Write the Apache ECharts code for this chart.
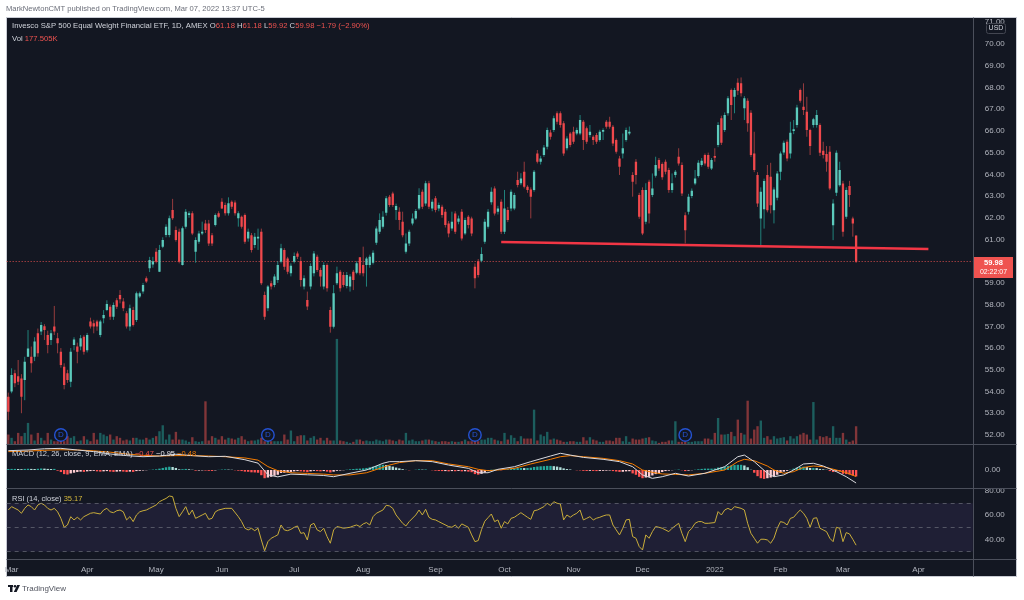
<!DOCTYPE html>
<html><head><meta charset="utf-8">
<script src="https://cdn.jsdelivr.net/npm/echarts@6/dist/echarts.min.js"></script>
<style>html,body{margin:0;padding:0;background:#fff}#c{width:1024px;height:600px}</style>
</head><body><div id="c"></div><script>
const FONT = '"Liberation Sans", Arial, sans-serif';
const START = '2021-02-26';
const HOLIDAYS = ['2021-04-02','2021-05-31','2021-07-05','2021-09-06','2021-11-25','2021-12-24','2022-01-17','2022-02-21','2022-04-15'];
const N_CAT = 294;
const MONTHS = ['Jan','Feb','Mar','Apr','May','Jun','Jul','Aug','Sep','Oct','Nov','Dec'];

const open = [
53.76,54.00,54.84,54.70,54.60,54.53,55.60,55.60,55.60,56.68,
56.76,57.00,56.60,56.37,56.99,56.45,55.83,55.14,54.84,54.45,
56.14,56.07,56.07,56.52,55.90,57.22,57.14,57.22,56.60,57.37,
57.75,57.90,57.44,58.20,58.44,58.14,57.60,56.99,57.75,57.29,
58.37,58.60,59.21,59.67,59.85,60.44,59.52,60.67,61.21,61.21,
62.36,61.44,61.36,59.83,61.59,62.13,62.21,60.44,60.90,61.28,
61.74,61.74,61.20,61.67,62.21,62.74,62.59,62.21,62.74,62.70,
61.98,62.05,62.13,61.05,61.20,60.75,61.05,61.36,58.44,57.83,
58.98,58.90,59.14,59.98,60.52,60.13,59.44,59.98,60.36,
60.01,58.83,58.21,58.83,59.44,60.21,59.60,58.83,59.82,57.75,56.98,
58.98,59.52,59.36,58.86,58.83,59.52,59.47,60.18,59.82,59.82,
59.82,59.93,60.85,61.36,61.59,62.23,62.97,63.12,62.36,62.28,
61.82,60.44,60.82,61.74,61.97,62.43,63.20,62.66,63.59,62.43,
62.90,62.43,62.51,62.28,61.74,61.51,62.20,61.82,62.28,61.28,
62.05,61.97,59.75,60.00,60.02,60.90,61.59,62.71,63.35,62.28,
62.74,61.36,62.36,62.43,62.43,63.74,63.59,64.12,63.43,63.30,
63.28,64.96,64.58,64.89,65.27,65.92,66.04,66.81,66.81,66.35,
65.20,65.88,65.96,65.88,65.88,66.42,66.12,65.81,65.73,65.81,
65.58,65.96,66.42,66.42,66.19,65.58,64.73,64.96,65.58,65.88,
63.97,64.58,63.05,63.28,61.82,63.66,63.05,63.93,64.66,64.47,
64.58,64.20,63.28,63.97,64.81,64.43,62.12,62.28,63.00,63.58,
63.92,64.43,64.89,64.89,64.27,64.84,65.35,66.58,66.04,66.81,
67.88,67.57,68.22,68.19,67.04,67.39,66.84,64.96,63.97,61.97,
62.39,63.97,63.89,62.35,62.92,64.12,65.00,65.50,64.96,66.00,
66.27,67.88,67.11,66.88,66.04,66.27,66.27,66.27,65.08,64.93,
65.04,61.66,63.15,63.50,63.58,62.05,63.46,61.97,61.18];
const high = [
53.95,55.07,55.00,55.45,54.80,55.60,56.83,56.07,56.50,56.90,
57.20,57.10,56.80,56.83,57.94,56.70,56.00,55.30,55.00,56.00,
56.50,56.25,56.60,56.60,56.70,57.40,57.30,57.30,57.30,57.75,
58.20,58.00,58.10,58.30,58.67,58.30,57.70,58.00,57.90,58.60,
58.60,59.00,59.30,60.20,60.20,60.60,60.75,61.10,61.70,62.10,
62.87,61.60,61.50,61.60,62.40,62.30,62.30,61.10,61.40,61.82,
61.90,61.90,61.30,62.20,62.30,62.90,62.70,62.94,62.80,62.80,
62.30,62.10,62.20,61.50,61.30,61.30,61.50,61.50,58.60,58.90,
59.10,59.40,60.00,60.80,60.60,60.20,59.90,60.40,60.45,
60.20,59.35,58.60,59.90,60.47,60.30,59.70,59.95,59.90,57.90,58.90,
59.75,59.60,59.50,59.50,59.40,59.60,60.00,60.18,60.67,60.20,
60.30,60.50,61.60,62.20,62.30,63.00,63.05,63.20,62.65,62.48,
62.28,61.28,61.45,62.20,62.40,63.36,63.30,63.70,63.70,62.85,
63.00,62.70,62.60,62.40,61.85,62.28,62.30,62.10,62.40,62.00,
62.12,62.05,59.90,60.10,60.64,61.95,62.40,63.40,63.45,62.55,
62.85,63.28,62.50,63.30,63.15,64.12,64.05,64.58,63.50,63.40,
64.20,65.12,64.85,65.35,66.15,66.05,66.70,66.90,66.90,66.45,
65.75,65.95,66.19,66.15,66.73,66.50,66.20,66.27,65.80,65.90,
66.05,66.12,66.50,66.65,66.27,65.65,64.85,65.88,66.15,66.20,
64.10,64.70,63.15,63.40,63.59,63.75,64.04,64.81,64.75,64.55,
64.68,64.30,64.04,64.20,65.20,64.55,62.25,63.10,63.35,64.20,
64.65,64.75,64.96,65.00,64.75,65.20,66.40,66.70,66.85,67.60,
67.95,67.98,68.42,68.46,67.60,67.50,66.95,65.96,64.10,63.40,
63.80,64.43,64.53,63.40,64.15,65.05,65.55,65.60,66.42,66.50,
67.20,67.95,68.19,67.57,66.10,66.60,66.96,66.35,65.50,65.30,
65.30,62.85,65.10,64.58,63.70,63.40,63.70,62.05,61.18];
const low = [
52.69,53.92,54.20,54.30,53.00,53.60,55.60,54.87,55.40,55.60,
56.60,56.37,55.76,56.14,56.60,55.76,55.10,54.10,54.40,54.20,
55.90,55.30,55.90,55.70,55.80,56.90,56.68,56.80,56.50,57.14,
57.70,57.30,57.30,57.80,58.06,57.70,56.90,56.80,56.99,57.20,
58.30,58.50,59.00,59.50,59.70,59.90,59.50,60.60,61.10,61.10,
61.90,60.90,59.90,59.80,61.50,62.00,61.20,59.93,60.80,61.20,
61.30,60.70,60.70,61.60,62.00,62.40,62.10,62.10,62.40,62.10,
61.59,61.50,60.80,60.90,60.40,60.60,60.52,58.90,57.30,57.70,
58.70,58.80,59.00,59.90,59.60,59.40,59.30,59.90,60.10,
58.83,58.70,57.75,58.70,59.30,59.50,58.83,58.70,58.60,56.71,56.90,
58.90,58.60,58.80,58.75,58.60,58.67,59.40,59.35,59.30,58.83,
59.70,59.85,60.75,61.25,61.50,62.10,62.50,62.50,61.90,61.44,
61.10,60.35,60.70,61.65,61.90,62.35,62.40,62.55,62.40,62.30,
62.25,62.30,62.00,61.55,61.10,61.40,61.25,61.70,60.95,61.20,
61.51,61.15,58.75,59.25,59.95,60.80,61.50,62.60,62.10,62.15,
61.25,61.25,61.80,62.30,62.35,63.40,63.50,63.35,63.15,61.97,
63.20,64.50,64.45,64.80,65.15,65.60,65.95,66.30,66.15,64.85,
65.10,65.25,65.40,65.80,65.80,65.12,65.40,65.70,65.35,65.40,
65.50,65.58,66.10,66.10,65.30,64.95,63.97,64.73,65.50,65.80,
62.97,63.54,61.95,61.20,61.70,61.74,62.95,63.85,64.15,63.75,
64.00,63.15,63.15,63.85,64.40,63.00,60.82,62.15,62.90,63.50,
63.85,64.35,64.40,64.25,64.20,64.58,65.25,65.35,65.95,66.70,
66.50,66.81,67.65,67.58,66.50,65.96,64.80,64.10,62.50,60.66,
61.50,62.25,62.20,61.74,62.80,63.73,64.90,64.60,64.73,65.85,
66.15,67.30,66.73,65.73,64.89,66.15,66.15,64.84,64.73,64.12,
63.27,60.97,63.00,63.43,61.13,61.95,62.50,61.13,59.92];
const close = [
53.07,54.76,54.38,54.45,53.76,55.37,55.98,55.30,56.30,55.76,
57.06,56.83,56.14,56.68,56.76,56.22,55.22,54.30,54.53,55.83,
56.40,55.83,56.45,55.83,56.60,56.99,56.99,56.99,57.22,57.52,
58.03,57.44,57.98,57.90,58.25,57.83,56.99,57.83,57.06,58.52,
58.52,58.90,59.06,60.06,60.00,59.98,60.52,60.98,61.59,61.98,
61.98,60.98,59.98,61.52,62.28,62.21,61.28,60.98,61.28,61.36,
61.44,60.82,60.82,62.13,62.05,62.43,62.21,62.67,62.51,62.21,
62.21,61.59,60.90,61.36,60.52,61.13,61.13,58.98,57.44,58.83,
58.83,59.29,59.83,60.60,59.75,59.52,59.79,60.24,60.20,
59.13,59.21,57.91,59.78,60.36,59.60,59.29,59.82,58.75,56.98,58.52,
59.44,58.75,58.90,59.36,59.29,59.13,59.90,59.44,59.44,60.13,
60.21,60.39,61.51,61.90,62.05,62.90,62.59,62.59,62.54,61.90,
61.20,60.82,61.36,61.97,62.31,63.05,62.51,63.59,62.51,62.74,
62.36,62.59,62.13,61.67,61.28,61.82,61.36,61.97,61.05,61.90,
61.67,61.28,59.21,59.36,60.33,61.82,62.28,63.20,62.20,62.43,
61.36,62.43,61.90,63.20,63.05,63.51,63.81,63.43,63.28,62.97,
64.12,64.58,64.73,65.24,66.04,65.73,66.58,66.42,66.27,64.96,
65.65,65.35,65.50,66.04,66.50,65.58,65.50,65.96,65.58,65.50,
65.96,66.04,66.19,66.19,65.42,65.04,64.35,65.20,66.04,65.96,
63.66,63.97,62.05,61.28,63.28,62.20,63.35,64.43,64.27,63.86,
64.12,63.28,63.59,64.12,64.50,63.12,61.43,62.97,63.24,63.81,
64.53,64.63,64.50,64.35,64.66,64.76,66.27,65.45,66.73,67.50,
67.19,67.88,67.85,67.73,67.50,66.35,64.89,64.20,62.66,63.20,
63.69,62.35,62.58,63.30,64.04,64.96,65.45,64.73,65.91,66.08,
67.08,67.39,66.96,66.04,65.30,66.53,66.73,64.99,64.89,64.58,
63.35,62.66,64.99,64.20,61.36,63.28,63.05,61.74,59.98];
const volumeK = [
97,65,32,113,81,113,210,97,39,113,65,39,113,48,32,32,32,32,81,65,
81,32,39,81,48,32,113,48,113,97,81,97,48,81,65,39,48,39,65,65,
48,48,65,48,65,81,129,187,48,97,48,123,48,48,39,26,71,32,26,32,
420,39,81,65,48,81,48,65,58,48,65,81,48,32,39,39,48,65,32,32,
32,32,32,32,97,48,136,32,81,90,90,39,65,81,48,65,39,65,39,39,
1027,39,32,26,16,26,48,48,32,39,32,32,48,39,32,48,48,39,32,48,
39,113,39,48,32,32,39,48,48,39,32,26,32,32,26,32,26,26,32,48,
32,32,32,32,48,48,65,65,48,39,32,113,48,90,65,32,81,58,58,58,
339,39,97,81,123,48,58,48,39,26,26,32,32,26,26,71,39,71,48,39,
26,26,39,39,32,65,65,32,81,26,58,48,48,58,65,71,39,32,16,26,
26,39,39,226,26,26,26,26,26,32,32,32,58,58,48,113,258,97,97,103,
123,81,242,113,97,426,58,145,178,233,65,81,48,81,58,65,71,39,81,58,
81,97,113,97,48,413,48,81,71,81,65,178,65,65,113,48,26,39,177.5];
const macdHist = [
0.07,0.08,0.08,0.07,0.06,0.08,0.09,0.08,0.07,0.09,0.11,0.1,0.08,0.07,0.08,
-0.05,-0.15,-0.3,-0.33,-0.25,-0.2,-0.15,
-0.12,-0.14,-0.1,-0.08,-0.06,-0.1,-0.12,-0.1,-0.08,-0.12,-0.14,-0.12,-0.1,-0.12,-0.15,
-0.12,-0.14,-0.08,-0.06,-0.04,-0.02,0.01,0.03,0.05,
0.1,0.15,0.2,0.24,0.22,0.15,
0.05,0.06,0.08,0.05,0.02,-0.05,-0.04,-0.03,-0.04,-0.06,-0.07,-0.03,0.01,0.03,0.04,0.03,0.02,-0.02,
-0.05,-0.08,-0.12,-0.13,-0.17,-0.18,-0.2,
-0.38,-0.6,-0.55,-0.5,-0.42,-0.35,
-0.22,-0.2,-0.17,-0.14,-0.1,-0.08,-0.1,-0.12,-0.16,-0.1,-0.06,-0.08,-0.1,-0.08,-0.12,-0.18,-0.12,
-0.06,-0.04,-0.02,0.02,0.05,0.07,0.09,0.1,0.12,0.15,
0.2,0.25,0.3,0.35,0.38,0.36,0.3,0.25,0.18,0.12,0.06,
0.01,-0.02,0.0,0.02,0.05,0.03,0.04,0.0,-0.02,-0.05,-0.07,-0.08,-0.08,-0.1,-0.08,-0.09,-0.07,-0.1,-0.09,
-0.12,-0.16,-0.3,-0.34,-0.28,-0.18,-0.08,
0.02,0.03,0.01,-0.02,0.03,0.05,0.1,0.12,0.14,0.15,0.14,0.15,0.17,0.22,0.25,0.27,0.28,0.3,0.3,0.28,0.25,0.2,0.12,0.07,0.04,
0.0,-0.02,-0.03,-0.06,-0.07,-0.06,-0.07,-0.08,-0.07,-0.06,-0.05,-0.04,-0.08,-0.11,-0.14,-0.13,-0.1,-0.09,
-0.25,-0.35,-0.5,-0.6,-0.55,-0.5,-0.4,-0.3,-0.22,-0.15,
-0.08,-0.05,-0.02,0.01,0.03,-0.02,-0.08,-0.05,-0.02,0.02,0.05,0.08,0.1,0.1,0.1,0.11,
0.18,0.2,0.25,0.3,0.33,0.36,0.38,0.38,0.33,0.2,0.02,
-0.2,-0.45,-0.6,-0.65,-0.6,-0.55,-0.45,-0.35,-0.22,-0.12,
-0.06,0.02,0.1,0.18,0.22,0.24,0.22,0.15,0.15,0.14,0.08,0.05,0.02,
-0.08,-0.15,-0.1,-0.12,-0.28,-0.3,-0.33,-0.4,-0.47];
const macdPts = [[0,1.41],[6,1.46],[11,1.55],[16,1.58],[21,1.46],[26,1.34],[31,1.17],[36,1.05],[41,0.97],[46,1.02],[51,1.15],[56,1.05],[61,0.97],[66,1.0],[72,0.75],[76,0.5],[79,-0.35],[82,-0.5],[86,-0.3],[91,-0.35],[96,-0.4],[99,-0.49],[104,-0.24],[109,0.0],[114,0.49],[116,0.61],[119,0.61],[124,0.68],[129,0.61],[134,0.36],[140,0.12],[143,-0.2],[146,-0.2],[149,0.05],[154,0.24],[159,0.61],[165,1.02],[168,1.22],[171,1.09],[175,0.92],[181,0.78],[186,0.61],[190,0.24],[193,-0.36],[196,-0.61],[199,-0.49],[203,-0.24],[207,-0.44],[212,-0.24],[218,0.24],[222,0.97],[224,1.09],[227,0.61],[231,-0.24],[233,-0.49],[236,-0.36],[239,0],[242,0.44],[245,0.49],[248,0.29],[252,-0.12],[255,-0.49],[258,-0.95]];
const signalPts = [[0,1.34],[6,1.38],[11,1.44],[16,1.48],[21,1.46],[26,1.40],[31,1.30],[36,1.17],[41,1.07],[46,1.02],[51,1.05],[56,1.05],[61,1.02],[66,0.97],[72,0.88],[76,0.72],[79,0.25],[82,-0.05],[86,-0.2],[91,-0.25],[96,-0.3],[99,-0.36],[104,-0.36],[109,-0.2],[114,0.19],[116,0.36],[119,0.54],[124,0.68],[129,0.68],[134,0.44],[140,0.24],[143,0.05],[146,-0.05],[149,0.0],[154,0.12],[159,0.44],[165,0.78],[168,0.97],[171,1.05],[175,0.97],[181,0.85],[186,0.68],[190,0.44],[193,0.0],[196,-0.17],[199,-0.29],[203,-0.32],[207,-0.36],[212,-0.24],[218,0.0],[222,0.61],[224,0.78],[227,0.68],[231,0.29],[233,0.0],[236,-0.24],[239,-0.12],[242,0.19],[245,0.29],[248,0.24],[252,0.0],[255,-0.19],[258,-0.48]];
const rsiPts = [[0,64.3],[1,67.1],[2,65.7],[3,64.3],[4,61.6],[5,65.7],[6,68.5],[7,67.1],[8,64.3],[9,68.5],[10,69.9],[11,68.5],[12,65.7],[13,64.3],[14,65.7],[15,62.8],[16,57.4],[17,50],[18,51.9],[19,58.8],[20,56.1],[21,58.3],[22,56.1],[23,58.8],[25,61.6],[26,62.1],[28,61.0],[29,64.3],[30,65.7],[31,62.8],[32,62.1],[33,63.7],[34,64.3],[35,62.8],[36,56.1],[37,58.8],[38,54.7],[39,60.2],[40,62.8],[41,63.7],[42,64.3],[43,65.7],[44,67.1],[45,68.5],[46,71.2],[47,72.6],[48,73.9],[49,75.9],[50,75.4],[51,65.7],[52,58.8],[53,62.8],[54,67.1],[55,60.2],[56,64.3],[57,57.4],[58,58.8],[59,60.2],[60,61.6],[61,56.6],[62,57.4],[63,62.8],[64,64.3],[66,65.7],[68,65.7],[70,58.8],[71,54.7],[72,49.2],[73,47.8],[74,49.2],[75,47.2],[76,49.2],[77,39.5],[78,30.5],[79,38.1],[80,40.9],[81,42.3],[82,43.7],[83,51.9],[84,47.8],[85,47.2],[86,48.3],[87,50],[88,51.1],[89,45],[90,45.5],[91,39.5],[92,51.9],[93,53.3],[94,47.8],[95,46.4],[96,49.2],[97,42.3],[98,36.8],[99,47.8],[100,50.6],[101,50],[102,49.2],[104,50],[105,51.1],[106,51.9],[107,50.6],[108,52.8],[109,53.9],[110,51.9],[111,58.8],[112,61.6],[114,64.3],[115,68.2],[116,67.7],[117,65.7],[118,60.2],[120,53.3],[121,51.1],[122,54.7],[124,60.2],[125,64.3],[126,60.2],[127,64.9],[128,58.3],[129,56.6],[130,56.1],[131,54.7],[132,53.3],[134,50.6],[135,50],[136,51.9],[137,49.2],[138,52.8],[140,50],[141,43.7],[142,38.1],[143,39],[144,48],[145,55],[146,58],[147,61],[148,54.7],[149,56.1],[150,49.2],[151,54.7],[152,52.8],[153,57.4],[154,58.3],[155,60.2],[156,62.1],[157,60.2],[158,58.3],[159,56.6],[160,63.7],[161,64.3],[163,67.1],[164,69.9],[165,68.0],[166,71.2],[167,69.9],[168,69.3],[169,56.1],[170,60.2],[171,58.3],[172,60.2],[173,61.6],[174,64.3],[175,56.1],[176,57.4],[177,58.8],[178,56.1],[179,57.5],[180,58.3],[181,59.4],[182,60.2],[183,60.2],[184,51.9],[185,47.8],[186,43.7],[187,49.2],[188,56.1],[189,56.6],[190,42.3],[191,40.9],[192,34.0],[193,31.2],[194,43.7],[195,40.9],[196,46.4],[197,50.6],[198,50.0],[199,49.2],[201,46.4],[202,49.2],[204,53.3],[205,45.0],[206,38.1],[207,46.4],[208,49.2],[209,53.3],[210,54.7],[211,54.7],[212,53.3],[213,53.3],[215,53.9],[216,63.0],[217,60.2],[218,64.3],[219,65.7],[220,64.3],[221,67.1],[223,65.7],[224,64.3],[225,53.3],[226,45.0],[227,40.9],[228,36.8],[229,40.1],[230,40.1],[231,39.5],[232,36.8],[233,41],[234,49.2],[235,54.7],[236,54],[237,51.9],[238,57.4],[239,58.3],[240,61.6],[241,64.3],[242,61.6],[243,57.4],[244,50.0],[245,57.4],[246,57.9],[247,49.2],[248,47.8],[249,46.4],[250,40.9],[251,38.1],[252,50.0],[253,49.2],[254,38.1],[255,45.6],[256,44.5],[257,40],[258,35.17]];
const dividendIdx = [16,79,142,206];
const trendLine = [[150,60.88],[280,60.56]];
const lastPrice = 59.98;

function buildDates(){
  const out=[]; let t=Date.parse(START+'T00:00:00Z');
  while(out.length<N_CAT){
    const d=new Date(t), dow=d.getUTCDay(), s=d.toISOString().slice(0,10);
    if(dow!==0&&dow!==6&&HOLIDAYS.indexOf(s)<0) out.push(s);
    t+=86400000;
  }
  return out;
}
const dates = buildDates();
const monthStart = dates.map((s,i)=> i>0 && s.slice(5,7)!==dates[i-1].slice(5,7));
const monthLabel = s => { const m=+s.slice(5,7); return m===1 ? s.slice(0,4) : MONTHS[m-1]; };

const UP='#5ccabc', DN='#f0484c', UPW='rgba(38,166,154,0.75)', DNW='rgba(239,83,80,0.6)';
const GL=6.66, GW=966.1;
const AX = {type:'category', data:dates, boundaryGap:true, axisLine:{show:false}, axisTick:{show:false}, axisLabel:{show:false}, splitLine:{show:false}};
const lblStyle = {color:'#b2b5be', fontSize:8, fontFamily:FONT, margin:12, align:'left'};
const F = '7.5px '+FONT;
const F1 = '7.7px '+FONT;

const candleData = open.map((o,i)=>[i,o,high[i],low[i],close[i]]);
const histData = macdHist.map((v,i)=>{
  const p = i>0 ? macdHist[i-1] : v;
  const col = v>=0 ? (v>=p?'#26a69a':'#b2dfdb') : (v<p?'#ff5252':'#ffcdd2');
  return {value:v, itemStyle:{color:col}};
});
const volData = volumeK.map((v,i)=>({value:v, itemStyle:{color: close[i]>=open[i]?'rgba(38,166,154,0.5)':'rgba(239,83,80,0.5)'}}));

const chart = echarts.init(document.getElementById('c'), null, {renderer:'canvas'});
chart.setOption({
  animation:false,
  backgroundColor:'#ffffff',
  grid:[
    {left:GL, width:GW, top:0.56, height:456.12},
    {left:GL, width:GW, top:17, height:427.5},
    {left:GL, width:GW, top:442.6, height:54.8},
    {left:GL, width:GW, top:479, height:84.5}
  ],
  xAxis:[
    Object.assign({gridIndex:0}, AX),
    Object.assign({gridIndex:1}, AX),
    Object.assign({gridIndex:2}, AX),
    Object.assign({}, AX, {gridIndex:3, axisLabel:{show:true, interval:(i)=>monthStart[i], formatter:(v)=>monthLabel(v), color:'#b2b5be', fontSize:8, fontFamily:FONT, margin:2.5}})
  ],
  yAxis:[
    {gridIndex:0, type:'value', position:'right', min:51, max:72, interval:1, splitLine:{show:false}, axisLine:{show:false}, axisTick:{show:false},
      axisLabel:Object.assign({}, lblStyle, {formatter:v=> (v<=51||v>=72)?'':v.toFixed(2)})},
    {gridIndex:1, type:'value', min:0, max:4158, show:false},
    {gridIndex:2, type:'value', position:'right', min:-2, max:2, interval:1, splitLine:{show:false}, axisLine:{show:false}, axisTick:{show:false},
      axisLabel:Object.assign({}, lblStyle, {formatter:v=> v===0?'0.00':''})},
    {gridIndex:3, type:'value', position:'right', min:20, max:90, interval:20, splitLine:{show:false}, axisLine:{show:false}, axisTick:{show:false},
      axisLabel:Object.assign({}, lblStyle, {formatter:v=> (v===40||v===60||v===80)?v.toFixed(2):''})}
  ],
  series:[
    {type:'bar', xAxisIndex:1, yAxisIndex:1, data:volData, barWidth:'72%', z:1},
    {type:'custom', xAxisIndex:0, yAxisIndex:0, data:candleData, encode:{x:0, y:[1,2,3,4]}, clip:true, z:5,
      renderItem:function(params, api){
        const i=api.value(0), o=api.value(1), h=api.value(2), l=api.value(3), c=api.value(4);
        const pO=api.coord([i,o]), pC=api.coord([i,c]), pH=api.coord([i,h]), pL=api.coord([i,l]);
        const bw=api.size([1,0])[0]*0.7, up=c>=o, x=pO[0];
        const top=Math.min(pO[1],pC[1]), ht=Math.max(1,Math.abs(pO[1]-pC[1]));
        return {type:'group', children:[
          {type:'line', shape:{x1:x, y1:pH[1], x2:x, y2:pL[1]}, style:{stroke:up?UPW:DNW, lineWidth:1}},
          {type:'rect', shape:{x:x-bw/2, y:top, width:bw, height:ht}, style:{fill:up?UP:DN}}
        ]};
      }},
    {type:'line', xAxisIndex:0, yAxisIndex:0, data:trendLine, symbol:'none', lineStyle:{color:'#f23645', width:2.5}, z:8,
      markLine:{silent:true, symbol:'none', label:{show:false}, data:[{yAxis:lastPrice}], lineStyle:{color:'#ef5350', type:[1,2], width:1, opacity:0.9}}},
    {type:'scatter', xAxisIndex:0, yAxisIndex:0, data:dividendIdx.map(i=>[i,52]), symbol:'circle', symbolSize:12.5, z:20,
      itemStyle:{color:'#131722', borderColor:'#2962ff', borderWidth:1.4},
      label:{show:true, position:'inside', formatter:'D', color:'#2962ff', fontSize:8, fontFamily:FONT}},
    {type:'bar', xAxisIndex:2, yAxisIndex:2, data:histData, barWidth:'72%', z:2},
    {type:'line', xAxisIndex:2, yAxisIndex:2, data:macdPts, symbol:'none', lineStyle:{color:'#d9d9de', width:1}, z:4},
    {type:'line', xAxisIndex:2, yAxisIndex:2, data:signalPts, symbol:'none', lineStyle:{color:'#f57c00', width:1}, z:3},
    {type:'line', xAxisIndex:3, yAxisIndex:3, data:rsiPts, symbol:'none', lineStyle:{color:'#c9ad3a', width:1}, z:4,
      markArea:{silent:true, itemStyle:{color:'rgba(126,87,194,0.12)'}, data:[[{yAxis:30},{yAxis:70}]]},
      markLine:{silent:true, symbol:'none', label:{show:false}, lineStyle:{color:'rgba(120,123,134,0.6)', type:[4,4], width:1}, data:[{yAxis:70},{yAxis:50},{yAxis:30}]}}
  ],
  graphic:[
    {type:'rect', z:-10, shape:{x:6.5, y:17.5, width:1010, height:559}, style:{fill:'#131722', stroke:'#c9ccd4', lineWidth:1}},
    {type:'text', z:100, x:6, y:9, style:{text:'MarkNewtonCMT published on TradingView.com, Mar 07, 2022 13:37 UTC-5', fill:'#6a6d78', font:'7.6px '+FONT, verticalAlign:'middle'}},
    {type:'text', z:100, x:12, y:26, style:{text:'{t|Invesco S&P 500 Equal Weight Financial ETF, 1D, AMEX} {t|O}{v|61.18} {t|H}{v|61.18} {t|L}{v|59.92} {t|C}{v|59.98} {v|\u22121.79 (\u22122.90%)}', verticalAlign:'middle', font:F1,
      rich:{t:{fill:'#d1d4dc', font:F1}, v:{fill:'#ef5350', font:F1}}}},
    {type:'text', z:100, x:12, y:38.5, style:{text:'{t|Vol} {v|177.505K}', verticalAlign:'middle', font:F1,
      rich:{t:{fill:'#d1d4dc', font:F1}, v:{fill:'#ef5350', font:F1}}}},
    {type:'text', z:100, x:12, y:454, style:{text:'{t|MACD (12, 26, close, 9, EMA, EMA)} {r|\u22120.47} {w|\u22120.95} {o|\u22120.48}', verticalAlign:'middle', font:F,
      rich:{t:{fill:'#d1d4dc', font:F}, r:{fill:'#ef5350', font:F}, w:{fill:'#e8e8ec', font:F}, o:{fill:'#f57c00', font:F}}}},
    {type:'text', z:100, x:12, y:498.5, style:{text:'{t|RSI (14, close)} {y|35.17}', verticalAlign:'middle', font:F,
      rich:{t:{fill:'#d1d4dc', font:F}, y:{fill:'#d4b83c', font:F}}}},
    {type:'line', z:90, shape:{x1:6.5, y1:444.5, x2:1016.5, y2:444.5}, style:{stroke:'#4b4f5b', lineWidth:1}},
    {type:'line', z:90, shape:{x1:6.5, y1:488.5, x2:1016.5, y2:488.5}, style:{stroke:'#4b4f5b', lineWidth:1}},
    {type:'line', z:90, shape:{x1:6.5, y1:559.5, x2:1016.5, y2:559.5}, style:{stroke:'#4b4f5b', lineWidth:1}},
    {type:'line', z:90, shape:{x1:973.5, y1:17.5, x2:973.5, y2:576.5}, style:{stroke:'#4b4f5b', lineWidth:1}},
    {type:'rect', z:100, shape:{x:986.5, y:23.5, width:19, height:10, r:2}, style:{fill:'#131722', stroke:'#434651', lineWidth:1}},
    {type:'text', z:101, x:996, y:28.5, style:{text:'USD', fill:'#d1d4dc', font:'7px '+FONT, align:'center', verticalAlign:'middle'}},
    {type:'rect', z:100, shape:{x:974, y:257, width:39, height:21}, style:{fill:'#ef5350'}},
    {type:'text', z:101, x:993.5, y:262.5, style:{text:'59.98', fill:'#ffffff', font:'bold 7.5px '+FONT, align:'center', verticalAlign:'middle'}},
    {type:'text', z:101, x:993.5, y:272, style:{text:'02:22:07', fill:'#ffffff', font:'7px '+FONT, align:'center', verticalAlign:'middle'}},
    {type:'rect', z:100, shape:{x:8, y:585, width:5, height:2}, style:{fill:'#131722'}},
    {type:'rect', z:100, shape:{x:10, y:585, width:2.5, height:7}, style:{fill:'#131722'}},
    {type:'circle', z:100, shape:{cx:15, cy:586.3, r:1.3}, style:{fill:'#131722'}},
    {type:'polygon', z:100, shape:{points:[[13.8,592],[17.2,585],[20,585],[16.6,592]]}, style:{fill:'#131722'}},
    {type:'text', z:100, x:22, y:589, style:{text:'TradingView', fill:'#50535e', font:'8px '+FONT, verticalAlign:'middle'}}
  ]
});
</script></body></html>
